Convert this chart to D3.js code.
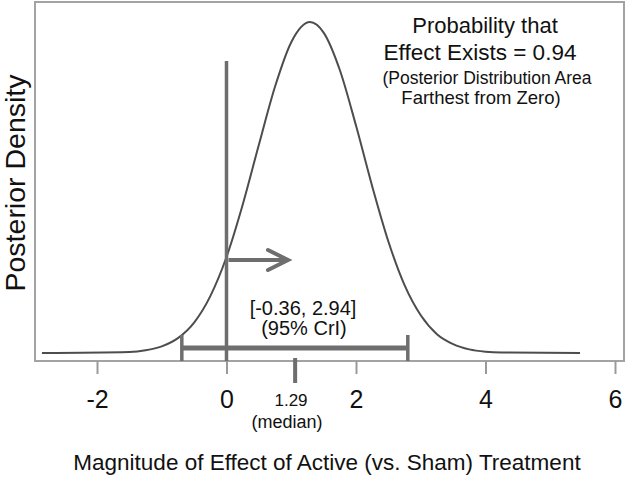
<!DOCTYPE html>
<html><head><meta charset="utf-8">
<script src="https://cdn.jsdelivr.net/npm/d3@7"></script>
<style>
html,body{margin:0;padding:0;background:#fff;}
svg{display:block;font-family:"Liberation Sans",Arial,sans-serif;}
</style></head>
<body><svg id="c" width="628" height="477"></svg>
<script>
// ---- data ----
const curveX = [-2.85,-1.5,-1.25,-1.0,-0.75,-0.5,-0.25,0,0.25,0.5,0.75,1.0,1.29,1.5,1.75,2.0,2.25,2.5,2.75,3.0,3.25,3.5,3.75,4.0,4.25,5.46];
const curveY = [0,0.003,0.008,0.020,0.045,0.092,0.172,0.290,0.448,0.629,0.805,0.939,1,0.968,0.855,0.687,0.504,0.337,0.205,0.114,0.057,0.027,0.011,0.004,0.0015,0];
const xTicks = [-2,0,2,4,6];
const ciDrawn = [-0.69, 2.80];        // drawn end caps of the interval bar
const ciLabel = ["[-0.36, 2.94]", "(95% CrI)"];
const medianDrawn = 1.06;             // drawn median tick
const medianLabel = ["1.29", "(median)"];
const probLines = ["Probability that", "Effect Exists = 0.94", "(Posterior Distribution Area", "Farthest from Zero)"];
const arrowEnd = 0.95;
const arrowLevel = 0.281;
const zeroLineTop = 0.882;

// ---- layout ----
const svg = d3.select("#c");
const box = {l:35, t:2, r:624, b:361};
const x = d3.scaleLinear().domain([-2,6]).range([97,615]);
const y = d3.scaleLinear().domain([0,1]).range([353,22]);
const grey = "#6e6e6e";

// frame
svg.append("rect").attr("x",box.l).attr("y",box.t)
  .attr("width",box.r-box.l).attr("height",box.b-box.t)
  .attr("fill","none").attr("stroke","#a3a3a3").attr("stroke-width",2);

// x axis ticks
const ax = d3.axisBottom(x).tickValues(xTicks).tickSize(13).tickFormat(d=>String(d));
const g = svg.append("g").attr("transform",`translate(0,${box.b})`).call(ax);
g.select(".domain").remove();
g.selectAll(".tick line").attr("stroke","#9a9a9a").attr("stroke-width",2);
g.selectAll(".tick text").attr("y",47).attr("dy",0).attr("font-size",25)
  .attr("fill","#111").attr("font-family","Liberation Sans, Arial, sans-serif");

// curve
const pts = curveX.map((v,i)=>[v,curveY[i]]);
svg.append("path").datum(pts)
  .attr("d", d3.line().x(d=>x(d[0])).y(d=>y(d[1])).curve(d3.curveMonotoneX))
  .attr("fill","none").attr("stroke","#4d4d4d").attr("stroke-width",2);

// zero line
svg.append("line").attr("x1",x(0)).attr("x2",x(0)).attr("y1",y(zeroLineTop)).attr("y2",box.b)
  .attr("stroke",grey).attr("stroke-width",3.5);

// arrow
svg.append("line").attr("x1",x(0)+2).attr("x2",x(arrowEnd)).attr("y1",y(arrowLevel)).attr("y2",y(arrowLevel))
  .attr("stroke",grey).attr("stroke-width",4);
svg.append("path")
  .attr("d",`M${x(arrowEnd)-20},${y(arrowLevel)-10}L${x(arrowEnd)},${y(arrowLevel)}L${x(arrowEnd)-20},${y(arrowLevel)+10}`)
  .attr("fill","none").attr("stroke",grey).attr("stroke-width",4).attr("stroke-linecap","round");

// credible interval bar
const ciY = 348;
svg.append("line").attr("x1",x(ciDrawn[0])).attr("x2",x(ciDrawn[1])).attr("y1",ciY).attr("y2",ciY)
  .attr("stroke",grey).attr("stroke-width",5);
ciDrawn.forEach(v=>{
  svg.append("line").attr("x1",x(v)).attr("x2",x(v)).attr("y1",335).attr("y2",box.b)
    .attr("stroke",grey).attr("stroke-width",3.5);
});

// median tick
svg.append("line").attr("x1",x(medianDrawn)).attr("x2",x(medianDrawn)).attr("y1",358).attr("y2",383)
  .attr("stroke",grey).attr("stroke-width",4);

// texts
function txt(s,xx,yy,size,anchor="middle"){
  return svg.append("text").attr("x",xx).attr("y",yy).attr("font-size",size)
    .attr("text-anchor",anchor).attr("fill","#111").text(s);
}
txt(medianLabel[0], 291, 406, 17);
txt(medianLabel[1], 287, 428, 18);
txt(ciLabel[0], 303, 315, 20);
txt(ciLabel[1], 304, 335, 20);
txt(probLines[0], 485, 33, 22);
txt(probLines[1], 480, 60, 22.5);
txt(probLines[2], 487, 84, 17.5);
txt(probLines[3], 481, 104, 18.5);
txt("Magnitude of Effect of Active (vs. Sham) Treatment", 327, 470, 22.5);
svg.append("text").attr("transform","translate(25,183) rotate(-90)")
  .attr("text-anchor","middle").attr("font-size",28.5).attr("fill","#111").text("Posterior Density");
</script></body></html>
